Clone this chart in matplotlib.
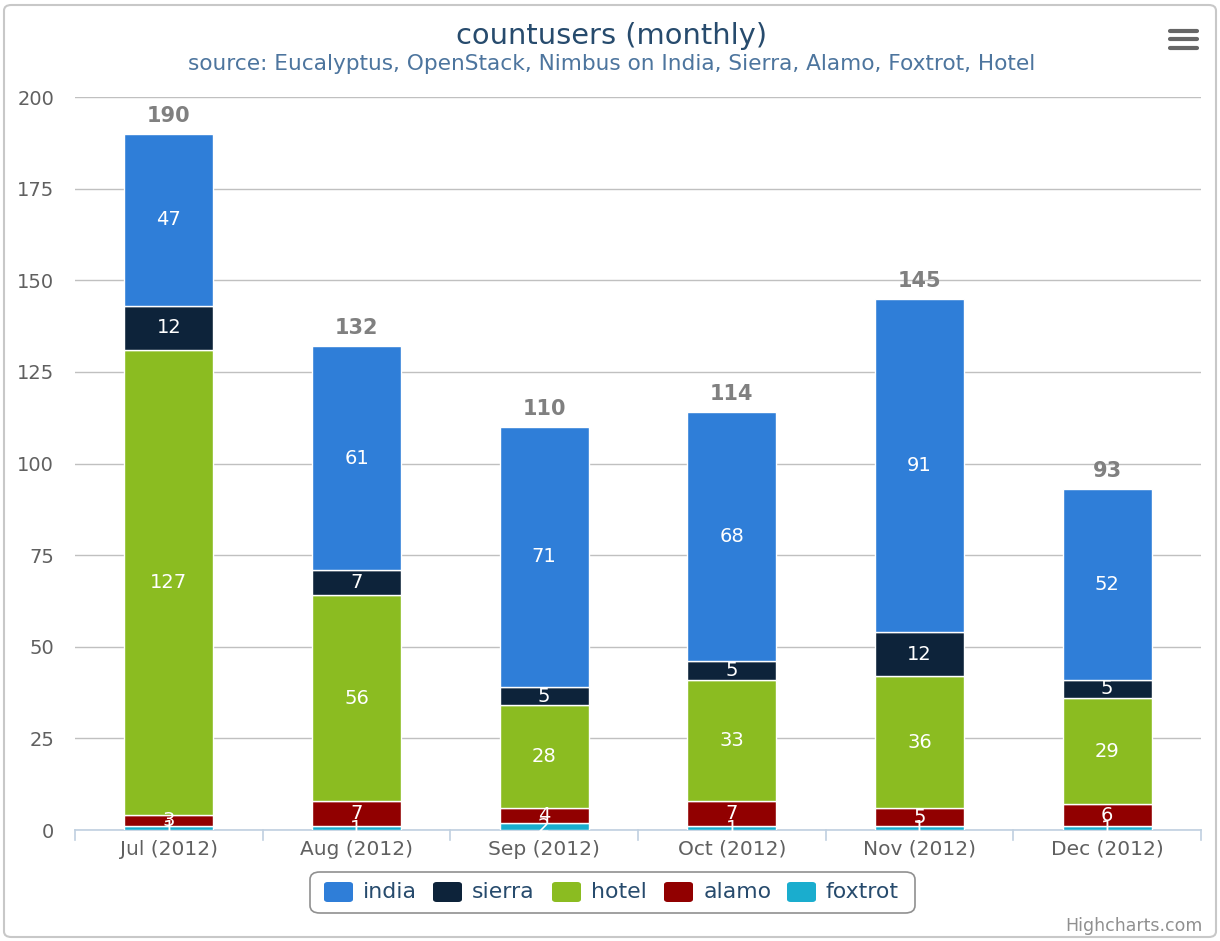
import numpy as np
import matplotlib.pyplot as plt
from matplotlib.patches import FancyBboxPatch
from matplotlib.lines import Line2D

plt.rcParams['font.family'] = 'DejaVu Sans'

months = ["Jul (2012)", "Aug (2012)", "Sep (2012)", "Oct (2012)", "Nov (2012)", "Dec (2012)"]
# stacked from the bottom up
foxtrot = [1, 1, 2, 1, 1, 1]
alamo = [3, 7, 4, 7, 5, 6]
hotel = [127, 56, 28, 33, 36, 29]
sierra = [12, 7, 5, 5, 12, 5]
india = [47, 61, 71, 68, 91, 52]

series = [("foxtrot", foxtrot, "#1aadce"),
          ("alamo", alamo, "#910000"),
          ("hotel", hotel, "#8bbc21"),
          ("sierra", sierra, "#0d233a"),
          ("india", india, "#2f7ed8")]
colors = {name: col for name, _, col in series}

fig = plt.figure(figsize=(12.2, 9.41), dpi=100)
ax = fig.add_axes([75/1220, 1-830/941, (1201-75)/1220, (830-97)/941])

x = np.arange(len(months))
bottom = np.zeros(len(months))
for name, vals, col in series:
    vals = np.array(vals, dtype=float)
    ax.bar(x, vals, width=0.475, bottom=bottom, color=col, edgecolor="white", linewidth=1, zorder=3)
    for xi, b, v in zip(x, bottom, vals):
        ax.text(xi, b + v/2, f"{int(v)}", color="white", ha="center", va="center",
                fontsize=14, zorder=5, clip_on=False)
    bottom += vals

# stack totals
for xi, tot in zip(x, bottom):
    ax.text(xi, tot + 2.2, f"{int(tot)}", color="#808080", ha="center", va="bottom",
            fontsize=15, fontweight="bold", zorder=5)

ax.set_xlim(-0.5, len(months) - 0.5)
ax.set_ylim(0, 200)
ax.set_yticks(range(0, 201, 25))
ax.yaxis.grid(True, color="#c0c0c0", linewidth=1, zorder=0)
ax.tick_params(axis="y", length=0, labelsize=14, labelcolor="#606060", pad=15)
ax.set_xticks(x)
ax.set_xticklabels(months)
ax.tick_params(axis="x", length=0, labelsize=14.5, labelcolor="#606060", pad=7)
for xb in np.arange(-0.5, len(months), 1.0):
    ax.plot([xb, xb], [0, -2.7], color="#c0d0e0", linewidth=1.2, clip_on=False, zorder=2)
for s in ["top", "right", "left"]:
    ax.spines[s].set_visible(False)
ax.spines["bottom"].set_color("#c0d0e0")
ax.spines["bottom"].set_linewidth(1.2)

# title and subtitle
fig.text(612/1220, 1-36/941, "countusers (monthly)", ha="center", va="center", fontsize=20.8, color="#274b6d")
fig.text(612/1220, 1-64/941, "source: Eucalyptus, OpenStack, Nimbus on India, Sierra, Alamo, Foxtrot, Hotel",
         ha="center", va="center", fontsize=15.6, color="#4d759e")

# outer border
fig.patches.append(FancyBboxPatch((4/1220, 4/941), 1212/1220, 932/941,
                                  boxstyle="round,pad=0,rounding_size=0.006", transform=fig.transFigure,
                                  facecolor="none", edgecolor="#c8c8c8", linewidth=1.5))

# legend box
fig.patches.append(FancyBboxPatch((310/1220, 1-913/941), 605/1220, 41/941,
                                  boxstyle="round,pad=0,rounding_size=0.008", transform=fig.transFigure,
                                  facecolor="white", edgecolor="#909090", linewidth=1.2))
legend_items = [("india", 324, 363), ("sierra", 433, 472), ("hotel", 552, 591),
                ("alamo", 664, 704), ("foxtrot", 787, 826)]
for name, sx, tx in legend_items:
    fig.patches.append(FancyBboxPatch((sx/1220, 1-902/941), 29/1220, 20/941,
                                      boxstyle="round,pad=0,rounding_size=0.003", transform=fig.transFigure,
                                      facecolor=colors[name], edgecolor="none"))
    fig.text(tx/1220, 1-892/941, name, ha="left", va="center", fontsize=15.8, color="#274b6d")

# credits
fig.text(1203/1220, 1-926/941, "Highcharts.com", ha="right", va="center", fontsize=12.5, color="#909090")

# export menu icon
for yy in [31, 39, 47.5]:
    fig.lines.append(Line2D([1170/1220, 1197/1220], [1-yy/941, 1-yy/941], transform=fig.transFigure,
                            color="#666666", linewidth=3, solid_capstyle="round"))

fig.savefig("out.png", dpi=100)
